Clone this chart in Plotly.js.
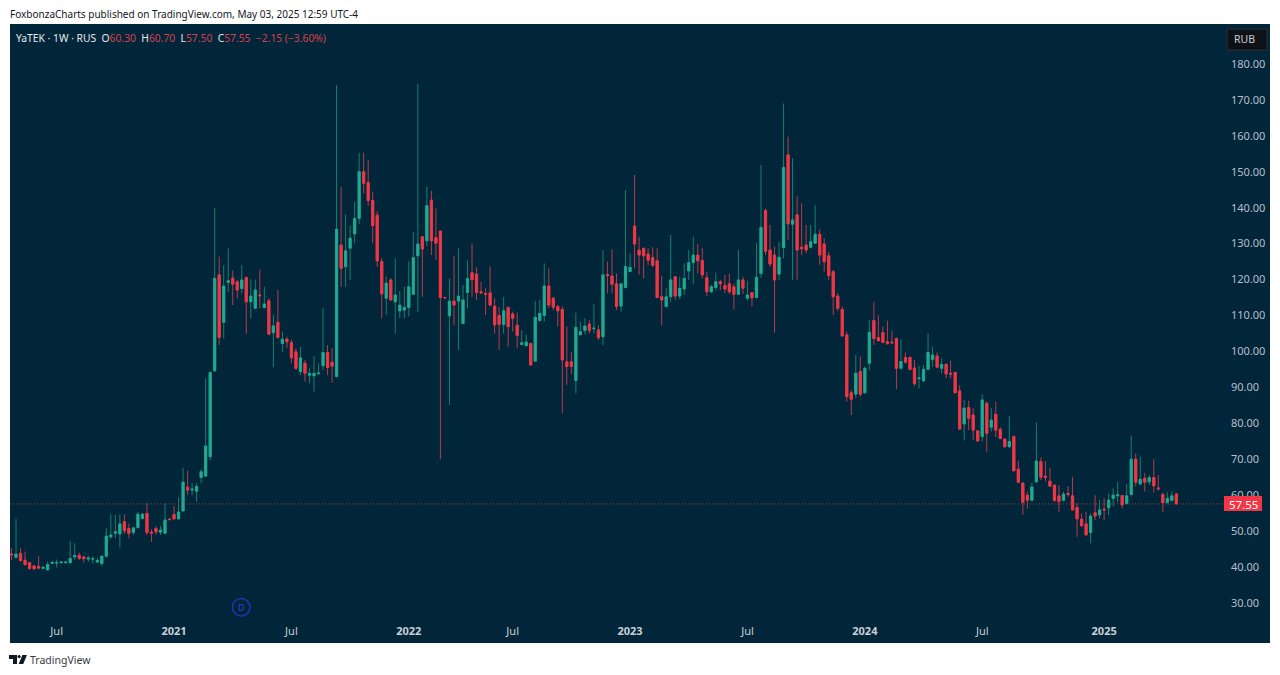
<!DOCTYPE html>
<html><head><meta charset="utf-8">
<script src="https://cdn.plot.ly/plotly-3.0.1.min.js"></script>
<style>html,body{margin:0;padding:0;background:#fff;overflow:hidden}#c{width:1280px;height:675px}</style>
</head><body><div id="c"></div>
<script>
const open=[43.6,42.7,43.8,41.9,41.2,40.3,40.2,39.6,39.2,41.0,
41.1,41.2,41.2,41.2,42.8,43.3,42.8,42.2,42.2,41.4,
41.0,43.0,48.4,49.4,49.2,52.6,50.7,49.6,51.0,53.5,
54.9,49.7,50.7,49.7,49.4,53.3,54.6,53.4,55.6,62.2,
61.4,61.1,64.9,65.3,70.7,94.6,121.3,108.1,119.2,120.4,
119.4,117.5,120.6,113.8,112.0,115.7,112.2,114.1,105.2,108.1,
102.2,103.4,102.5,99.9,94.4,96.7,93.4,93.2,93.8,96.0,
99.7,97.0,93.0,129.6,123.6,128.7,132.7,137.0,150.0,147.0,
142.0,137.9,125.0,114.8,119.9,113.8,111.3,111.5,112.2,115.9,
126.6,131.9,130.8,142.1,131.7,133.5,115.0,109.9,114.0,114.0,
107.8,116.4,121.9,121.5,116.6,116.1,116.3,112.6,110.0,107.5,
112.2,110.4,107.3,101.9,101.6,102.2,97.3,108.6,110.0,118.2,
114.8,112.5,111.7,97.1,97.1,91.9,104.6,105.8,107.6,106.3,
106.0,104.1,121.4,121.0,118.8,112.6,117.8,122.2,134.9,128.2,
128.7,127.1,126.1,125.2,115.2,112.5,115.2,120.8,115.4,117.4,
122.4,124.7,126.8,125.3,120.5,116.6,117.8,119.4,118.3,118.8,
118.0,115.9,119.9,114.8,116.4,115.0,121.7,139.2,128.2,126.8,
121.5,128.9,154.7,135.4,138.0,129.0,129.6,129.0,130.1,132.6,
129.9,126.6,122.2,115.4,111.7,104.6,88.5,88.1,94.4,88.5,
96.7,108.6,103.9,105.2,102.7,102.6,103.6,95.3,98.3,98.3,
95.4,92.4,91.8,95.0,97.8,98.7,95.3,96.4,93.9,94.1,
89.0,79.8,84.4,82.3,77.9,76.3,85.6,78.9,82.5,78.3,
75.6,73.5,76.3,67.2,63.3,60.0,58.6,63.7,69.3,65.3,
63.9,62.8,59.8,58.6,60.5,59.8,56.6,53.3,52.0,49.6,
55.1,54.5,56.1,56.5,59.1,59.8,59.9,57.7,60.2,70.0,
63.1,64.7,63.7,64.9,62.0,60.2,57.9,58.5,60.30];
const high=[45.2,53.4,45.2,44.3,41.4,40.6,43.0,40.3,41.5,41.6,
42.1,41.5,41.6,47.2,46.6,44.0,43.1,43.2,43.0,42.5,
43.3,50.8,54.7,54.5,54.7,54.7,52.1,51.0,55.4,55.0,
57.7,50.5,51.4,51.4,57.7,53.6,57.0,59.4,67.5,66.8,
63.3,63.3,67.2,92.5,94.5,139.8,126.4,124.0,128.7,122.5,
119.9,124.0,120.8,120.1,119.9,122.8,118.0,114.8,110.1,117.1,
105.5,104.1,103.2,100.9,101.3,97.6,95.3,98.7,96.7,112.0,
101.8,100.9,174.1,145.8,138.1,135.0,141.7,155.3,155.3,153.3,
144.5,139.0,126.0,120.8,120.4,125.9,116.9,118.0,125.0,133.3,
174.5,131.9,145.8,144.7,139.8,133.5,115.2,120.3,126.6,128.7,
118.5,125.3,130.1,123.4,119.4,117.6,123.6,114.8,112.3,115.2,
112.6,111.1,110.8,105.9,104.6,102.4,114.0,114.3,124.5,123.1,
115.2,112.9,112.5,106.9,99.9,110.8,108.3,109.2,108.7,113.1,
107.3,128.2,125.0,128.4,121.7,118.9,144.9,127.3,149.1,131.9,
128.7,128.7,129.0,128.7,121.0,117.6,132.4,120.8,120.8,124.5,
128.2,131.9,129.9,128.9,122.2,118.5,121.9,119.9,121.3,121.6,
118.9,128.2,120.8,119.7,116.5,130.1,151.9,139.8,135.2,129.2,
130.5,169.0,159.8,153.7,143.1,141.2,135.2,135.2,140.7,134.0,
131.5,127.7,122.7,116.2,112.5,105.5,89.3,99.0,98.6,95.8,
108.7,113.8,110.1,106.9,108.6,105.8,103.9,103.4,99.7,98.6,
97.6,96.0,96.2,105.0,101.3,99.7,98.1,96.7,97.4,94.4,
90.6,86.5,86.3,84.2,78.1,88.1,86.0,84.2,86.0,78.9,
75.8,82.0,76.7,69.6,63.7,61.0,63.5,80.2,70.5,69.5,
67.5,62.8,62.8,61.0,62.5,65.1,57.7,54.9,55.4,54.9,
60.0,58.6,59.1,60.5,61.9,63.7,60.0,63.0,76.5,71.6,
70.7,66.2,65.6,70.0,65.6,60.7,60.8,61.0,60.70];
const low=[41.9,42.4,41.5,40.3,39.2,39.2,39.3,39.4,39.0,40.8,
39.9,41.0,41.0,41.0,42.0,42.0,41.2,41.4,41.0,41.0,
40.3,42.6,47.9,48.0,45.5,49.2,48.0,48.9,50.6,53.2,
48.9,47.0,49.0,48.9,49.2,53.0,53.2,53.2,55.4,60.0,
60.0,58.2,63.3,65.0,69.8,94.3,101.8,103.6,116.6,112.9,
114.8,116.2,105.0,109.2,112.0,112.0,112.0,104.5,95.6,103.6,
99.9,100.9,96.7,94.8,93.4,91.6,91.1,88.8,93.4,94.8,
93.4,91.3,92.8,117.9,118.0,119.9,130.1,135.5,144.0,140.5,
130.1,123.5,109.2,110.1,114.3,105.0,109.2,109.2,109.7,115.7,
111.0,115.2,129.3,126.8,125.4,70.0,114.7,85.1,107.3,100.4,
107.8,112.0,115.2,114.3,116.0,110.1,112.5,105.0,100.4,105.0,
101.3,105.5,100.9,101.8,101.3,96.2,97.1,108.3,108.3,112.0,
111.5,106.9,82.8,90.7,93.7,88.3,104.6,104.7,105.0,105.0,
103.2,101.8,116.2,116.2,111.5,111.1,117.5,122.2,123.1,121.3,
120.3,124.0,123.5,114.8,107.3,112.3,113.8,114.3,114.5,115.7,
119.9,118.9,121.7,120.3,115.4,116.2,117.0,117.1,116.2,116.0,
111.7,115.7,116.0,114.3,112.5,114.8,120.5,126.8,123.6,105.2,
119.9,125.9,131.0,119.9,119.9,126.8,127.3,128.7,130.0,124.1,
122.2,119.9,110.1,111.3,104.1,86.0,82.3,87.0,87.4,88.3,
94.8,101.8,102.7,102.4,102.0,102.2,89.5,95.0,96.7,94.8,
90.4,89.7,91.6,94.8,95.8,95.3,93.9,92.5,92.5,88.3,
78.1,75.2,78.1,75.3,74.9,74.9,72.1,77.7,76.1,75.5,
73.0,73.0,66.5,63.3,54.5,56.3,58.2,63.5,64.2,63.8,
62.4,58.2,55.4,58.2,59.6,55.8,48.4,51.2,48.9,46.6,
53.1,53.5,53.1,54.5,56.8,58.0,56.3,57.3,59.6,62.4,
63.0,61.0,62.8,60.7,61.2,55.2,57.7,58.3,57.50];
const close=[43.4,43.6,41.8,40.7,39.6,39.5,39.7,39.9,40.7,41.3,
41.2,41.4,41.4,42.4,43.2,42.4,42.3,42.5,42.3,41.8,
43.0,48.6,48.9,49.8,52.0,50.1,49.4,50.9,54.7,54.7,
49.6,49.4,49.8,50.3,53.1,53.2,53.4,55.3,63.6,61.4,
61.7,62.4,66.5,73.7,94.1,120.3,103.9,118.2,119.7,118.7,
117.1,119.9,113.8,115.4,117.1,115.5,113.2,104.8,107.1,103.9,
103.4,102.7,98.2,95.3,98.2,93.9,93.9,93.9,94.0,99.7,
95.5,95.9,134.0,123.1,128.0,131.5,137.0,150.0,146.8,142.0,
135.0,125.2,116.0,119.0,114.3,115.7,112.9,112.2,118.0,126.1,
129.9,128.5,140.6,130.8,130.1,115.0,114.9,114.0,112.9,115.4,
114.3,120.3,119.9,116.4,116.3,115.9,112.9,107.4,107.5,111.3,
106.9,109.2,104.4,102.4,102.6,96.2,109.5,110.6,118.2,112.9,
112.3,111.3,97.6,95.8,95.8,106.7,105.5,107.1,105.8,106.5,
103.8,121.3,121.1,118.7,112.5,118.8,123.6,123.4,129.9,126.8,
126.6,125.4,124.0,115.0,114.3,115.2,119.9,115.4,117.6,120.3,
124.7,126.8,125.2,121.3,116.6,118.0,119.4,118.8,117.4,116.6,
115.9,119.9,117.6,115.7,114.9,120.6,134.5,127.9,124.3,119.9,
126.2,151.2,135.5,136.6,128.2,128.6,128.2,130.5,132.6,126.8,
125.0,121.1,115.2,112.0,104.3,87.4,86.7,93.9,88.1,95.3,
105.3,103.6,103.0,102.5,102.1,102.4,95.3,97.2,97.0,95.0,
91.0,92.6,95.0,99.7,99.0,95.6,96.4,93.7,93.7,88.5,
78.4,84.2,81.4,78.1,75.1,86.5,77.2,80.9,78.1,75.8,
73.5,74.9,66.8,63.6,58.0,58.6,62.3,69.5,65.0,64.9,
62.5,58.5,58.2,60.3,60.2,55.9,53.4,51.5,48.9,54.2,
54.2,55.9,55.9,58.6,60.0,60.1,57.3,59.8,70.0,63.6,
64.4,63.6,64.9,62.6,61.8,57.9,59.1,59.8,57.55];
const tickBars=[10,36,62,88,111,137,163,189,215,242];
const tickLabels=['Jul','<b>2021</b>','Jul','<b>2022</b>','Jul','<b>2023</b>','Jul','<b>2024</b>','Jul','<b>2025</b>'];
const priceTicks=[30,40,50,60,70,80,90,100,110,120,130,140,150,160,170,180];
const lastClose=57.55;

const FONT='"Noto Sans", sans-serif';
const BG='#01263a', RED='#f23645', GREEN='#22ab94';
const L=10,R=1224,T=24,B=617;
const W=1280,H=675;
const px=x=>(x-L)/(R-L), py=y=>1-(y-T)/(B-T);
const barStep=4.515, bar0=11.5;
const xr=[(L-bar0)/barStep,(R-bar0)/barStep];
const yr=[197.8-0.2783*B,197.8-0.2783*T];

const bars=open.map((_,i)=>i);
const bodyTop=open.map((v,i)=>Math.max(v,close[i]));
const bodyLow=open.map((v,i)=>Math.min(v,close[i]));
const wicks={type:'candlestick',x:bars,open,high,low,close,whiskerwidth:0,hoverinfo:'skip',
 increasing:{line:{color:'#15806f',width:1},fillcolor:GREEN},
 decreasing:{line:{color:'#b93a4c',width:1},fillcolor:RED}};
const bodies={type:'candlestick',x:bars,open,high:bodyTop,low:bodyLow,close,whiskerwidth:0,hoverinfo:'skip',
 increasing:{line:{color:GREEN,width:0.6},fillcolor:GREEN},
 decreasing:{line:{color:RED,width:0.6},fillcolor:RED}};

const rect=(x0,y0,x1,y1,fill,extra)=>Object.assign({type:'rect',xref:'paper',yref:'paper',x0:px(x0),x1:px(x1),y0:py(y0),y1:py(y1),fillcolor:fill,line:{width:0},layer:'below'},extra||{});
const note=(x,y,text,size,color,anchor,extra)=>Object.assign({xref:'paper',yref:'paper',x:px(x),y:py(y),text,showarrow:false,xanchor:anchor||'left',yanchor:'middle',font:{family:FONT,size,color}},extra||{});

const logoPath=['M9,655 H17 V664 H13 V659 H9 Z','M18.7,664 L22.4,655 H27 L23.2,664 Z'];
const toPaper=s=>s.replace(/([MHVL]) ?([\d.]+)(?:,([\d.]+))?/g,(m,c,a,b)=>{
  if(c==='H')return 'H'+px(+a); if(c==='V')return 'V'+py(+a);
  return c+px(+a)+','+py(+b);});

const layout={width:W,height:H,margin:{l:L,r:W-R,t:T,b:H-B,pad:0},
 paper_bgcolor:'#ffffff',plot_bgcolor:'rgba(0,0,0,0)',showlegend:false,boxgap:0.3,boxmode:'overlay',
 xaxis:{type:'linear',range:xr,rangeslider:{visible:false},showgrid:false,zeroline:false,showline:false,ticks:'',
   tickmode:'array',tickvals:tickBars,ticktext:tickLabels,tickangle:0,ticklabelstandoff:6,
   tickfont:{family:FONT,size:11,color:'#c9ced6'}},
 yaxis:{side:'right',range:yr,showgrid:false,zeroline:false,showline:false,ticks:'',
   tickmode:'array',tickvals:priceTicks,ticktext:priceTicks.map(v=>v.toFixed(2)),ticklabelstandoff:6,
   tickfont:{family:FONT,size:11,color:'#b8bec8'}},
 shapes:[
  rect(10,24,1270,643,BG),
  {type:'line',xref:'paper',yref:'y',x0:0,x1:1,y0:lastClose,y1:lastClose,line:{color:'#a8404f',width:1,dash:'1px,2px'}},
  rect(1224,496,1262,511,RED,{layer:'above'}),
  rect(1227,29,1267,50,'#0e1216',{layer:'above',line:{color:'#2a3138',width:1}}),
  {type:'circle',xref:'paper',yref:'paper',x0:px(232.5),x1:px(250),y0:py(598.5),y1:py(616),fillcolor:'rgba(0,0,0,0)',line:{color:'#2430b8',width:1.5}},
  {type:'path',xref:'paper',yref:'paper',path:toPaper(logoPath[0]),fillcolor:'#131722',line:{width:0}},
  {type:'path',xref:'paper',yref:'paper',path:toPaper(logoPath[1]),fillcolor:'#131722',line:{width:0}},
  {type:'circle',xref:'paper',yref:'paper',x0:px(17.5),x1:px(20.7),y0:py(655),y1:py(658.2),fillcolor:'#131722',line:{width:0}}
 ],
 annotations:[
  note(8,14,'FoxbonzaCharts published on TradingView.com, May 03, 2025 12:59 UTC-4',10,'#131722'),
  note(14,38,'YaTEK · 1W · RUS  <span style="color:#e6e8ea">O</span><span style="color:#d6404f">60.30</span>  H<span style="color:#d6404f">60.70</span>  L<span style="color:#d6404f">57.50</span>  C<span style="color:#d6404f">57.55</span>  <span style="color:#d6404f">−2.15 (−3.60%)</span>',10.3,'#e6e8ea'),
  note(1244,39,'RUB',10.5,'#c9ced6','center'),
  note(1243,504,'57.55',11.5,'#ffffff','center'),
  note(241,607.5,'D',9,'#3340d8','center'),
  note(28,660,'TradingView',10.5,'#363a45')
 ]};
Plotly.newPlot('c',[wicks,bodies],layout,{staticPlot:true,displayModeBar:false});
</script></body></html>
